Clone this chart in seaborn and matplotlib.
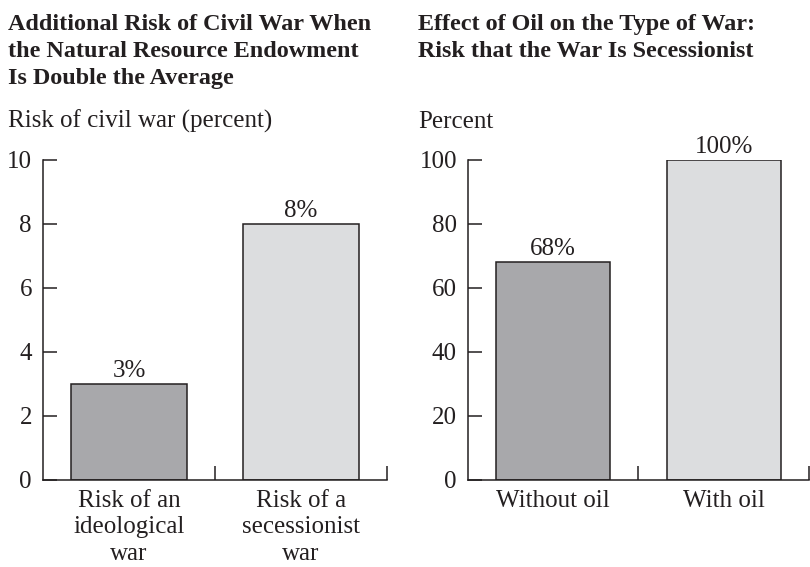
import matplotlib
matplotlib.use('Agg')
import matplotlib.pyplot as plt
import seaborn as sns
import pandas as pd

sns.set_style('white')
plt.rcParams['font.family'] = ['Liberation Serif', 'DejaVu Serif']

# data
left_cats = ['Risk of an\nideological\nwar', 'Risk of a\nsecessionist\nwar']
left_vals = [3, 8]
left_ticks = [0, 2, 4, 6, 8, 10]
right_cats = ['Without oil', 'With oil']
right_vals = [68, 100]
right_ticks = [0, 20, 40, 60, 80, 100]
bar_colors = ['#a7a8ab', '#dcdddf']

left_title = 'Additional Risk of Civil War When\nthe Natural Resource Endowment\nIs Double the Average'
right_title = 'Effect of Oil on the Type of War:\nRisk that the War Is Secessionist'
left_ylabel = 'Risk of civil war (percent)'
right_ylabel = 'Percent'

ink = '#231f20'
fs = 18
fs_title = 17.4

fig = plt.figure(figsize=(8.1, 5.67), dpi=100)
ax1 = fig.add_axes([43/810, 87/567, 344/810, 320/567])
ax2 = fig.add_axes([468/810, 87/567, 341/810, 320/567])


def draw_panel(ax, cats, vals, ticks):
    df = pd.DataFrame({'cat': cats, 'val': vals})
    sns.barplot(data=df, x='cat', y='val', hue='cat', palette=bar_colors,
                width=0.67, edgecolor=ink, linewidth=1.1, legend=False, ax=ax)
    for c, v in zip(ax.containers, vals):
        ax.bar_label(c, labels=[f'{v}%'], padding=1.5, fontsize=fs, color=ink)
    ax.set_xlim(-0.5, 1.5)
    ax.set_ylim(ticks[0], ticks[-1])
    ax.set_yticks(ticks)
    ax.set_xlabel('')
    ax.set_ylabel('')
    # little boundary ticks between the categories, pointing up
    ax.set_xticks([0.5, 1.5], minor=True)
    ax.tick_params(axis='x', which='major', length=0, pad=7, labelsize=fs, colors=ink)
    ax.tick_params(axis='x', which='minor', direction='in', length=10, width=1.1,
                   color=ink, bottom=True)
    ax.tick_params(axis='y', direction='in', length=10, width=1.1, pad=8,
                   labelsize=fs, color=ink, labelcolor=ink, left=True)
    for lbl in ax.get_xticklabels():
        lbl.set_linespacing(1.26)
    for s in ['top', 'right']:
        ax.spines[s].set_visible(False)
    for s in ['left', 'bottom']:
        ax.spines[s].set_color(ink)
        ax.spines[s].set_linewidth(1.1)


draw_panel(ax1, left_cats, left_vals, left_ticks)
draw_panel(ax2, right_cats, right_vals, right_ticks)

fig.text(8/810, 1 - 14/567, left_title, fontsize=fs_title, fontweight='bold', color=ink,
         ha='left', va='top', linespacing=1.38)
fig.text(418/810, 1 - 14/567, right_title, fontsize=fs_title, fontweight='bold', color=ink,
         ha='left', va='top', linespacing=1.38)
fig.text(8/810, 1 - 128/567, left_ylabel, fontsize=fs, color=ink, ha='left', va='baseline')
fig.text(418/810, 1 - 128/567, right_ylabel, fontsize=fs, color=ink, ha='left', va='baseline')

fig.savefig('out.png', dpi=100)
